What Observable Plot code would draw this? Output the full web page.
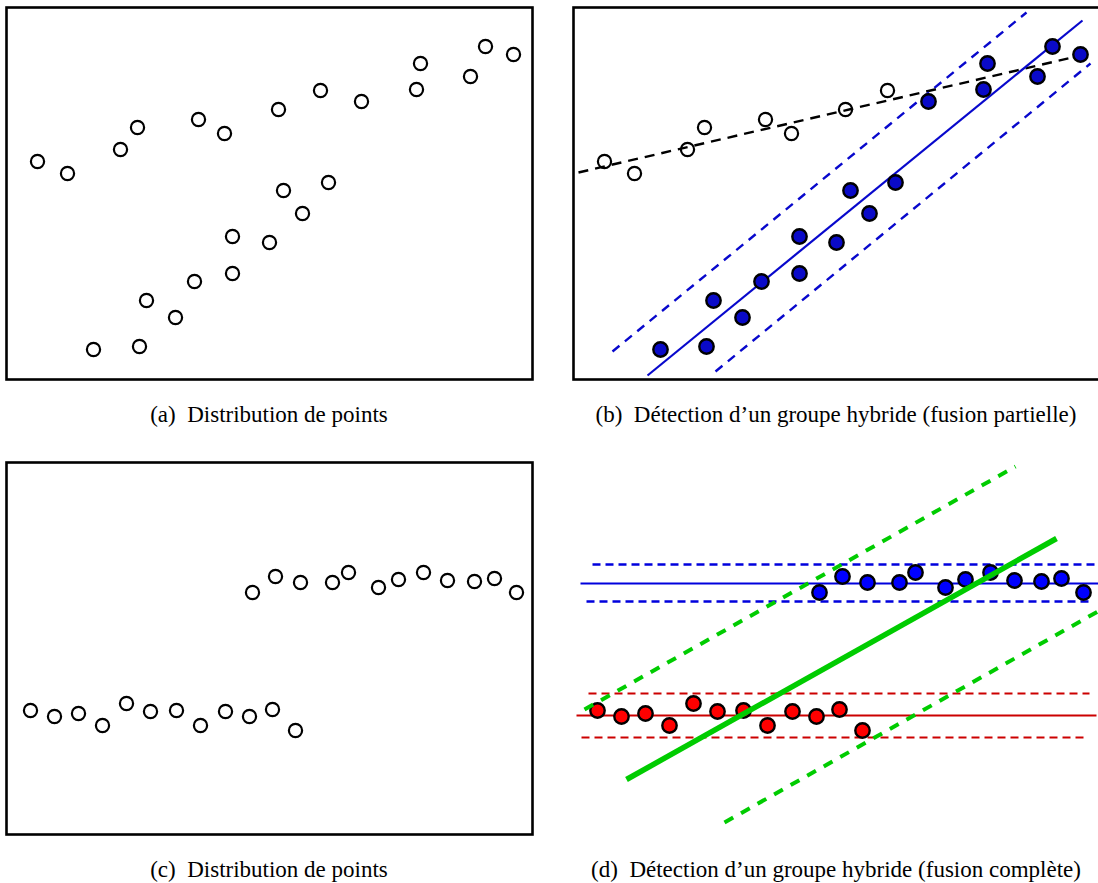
<!DOCTYPE html>
<html><head><meta charset="utf-8">
<script src="https://cdn.jsdelivr.net/npm/d3@7"></script>
<script src="https://cdn.jsdelivr.net/npm/@observablehq/plot@0.6"></script>
<style>
html,body{margin:0;padding:0;background:#fff;overflow:hidden;}
#root{position:relative;width:1098px;height:883px;overflow:hidden;}
.cap{position:absolute;font-family:"Liberation Serif","Times New Roman",serif;font-size:23px;line-height:23px;text-align:center;white-space:pre;color:#000;}
</style></head><body><div id="root"></div>
<script>
// ---- Data (panel units: x right from the left frame edge, y up from the bottom frame edge) ----
// Panels (a)/(b): two crossing point clouds
const abUpperX = [31, 61, 114, 131, 192, 218, 272, 314, 355, 410, 414, 464, 479, 507];
const abUpperY = [218, 206, 230, 252, 260, 246, 270, 289, 278, 290, 316, 303, 333, 325];
const abLowerX = [87, 133, 140, 169, 188, 226, 226, 263, 277, 296, 322];
const abLowerY = [30, 33, 79, 62, 98, 106, 143, 137, 189, 166, 197];
// in (b): 1 = absorbed by the hybrid group, 0 = left alone
const bUpperInGroup = [0, 0, 0, 0, 0, 0, 0, 0, 1, 1, 1, 1, 1, 1];

// Panels (c)/(d): two horizontal rows
const cdUpperX = [246, 269, 294, 326, 342, 372, 392, 417, 441, 468, 488, 510];
const cdUpperY = [242, 258, 252, 252, 262, 247, 255, 262, 254, 253, 256, 242];
const cdLowerX = [24, 48, 72, 96, 120, 144, 170, 194, 219, 243, 266, 289];
const cdLowerY = [124, 118, 121, 109, 131, 123, 124, 109, 123, 118, 125, 104];

// Fitted lines (b)
const bLineNames = ["hybride", "hybride_haut", "hybride_bas", "libre"];
const bLineX1 = [74, 39, 142, 5];
const bLineY1 = [4, 28, 8, 207];
const bLineX2 = [509, 453, 517, 516];
const bLineY2 = [359, 367, 316, 326];

// Fitted lines (d)
const dLineNames = ["bleu", "bleu_haut", "bleu_bas", "rouge", "rouge_haut", "rouge_bas", "vert", "vert_haut", "vert_bas"];
const dLineX1 = [7, 19, 13, 3, 15, 8, 53, 11, 151];
const dLineY1 = [251, 270, 233, 119, 141, 97, 55, 125, 12];
const dLineX2 = [525, 525, 518, 523, 516, 515, 483, 442, 526];
const dLineY2 = [251, 270, 233, 119, 141, 97, 296, 368, 224];

const captions = [
  "(a)\u2002Distribution de points",
  "(b)\u2002Détection d\u2019un groupe hybride (fusion partielle)",
  "(c)\u2002Distribution de points",
  "(d)\u2002Détection d\u2019un groupe hybride (fusion complète)"
];

// ---- Build tables ----
const zipPts = (xs, ys, extra = {}) => xs.map((x, i) => ({x, y: ys[i], ...Object.fromEntries(Object.entries(extra).map(([k, v]) => [k, Array.isArray(v) ? v[i] : v]))}));
const zipLines = (names, x1, y1, x2, y2) => names.map((name, i) => ({name, x1: x1[i], y1: y1[i], x2: x2[i], y2: y2[i]}));

const abPts = [...zipPts(abUpperX, abUpperY, {g: bUpperInGroup}), ...zipPts(abLowerX, abLowerY, {g: 1})];
const cdUpper = zipPts(cdUpperX, cdUpperY);
const cdLower = zipPts(cdLowerX, cdLowerY);
const bLines = zipLines(bLineNames, bLineX1, bLineY1, bLineX2, bLineY2);
const dLines = zipLines(dLineNames, dLineX1, dLineY1, dLineX2, dLineY2);

const root = document.getElementById("root");
const M = 4, W = 534, H = 380;

function panel(left, top, marks, frame) {
  const svg = Plot.plot({
    width: W, height: H,
    marginLeft: M, marginRight: M, marginTop: M, marginBottom: M,
    x: {domain: [0, 526], axis: null},
    y: {domain: [0, 372], axis: null},
    style: {background: "transparent", overflow: "visible"},
    marks: [...marks, frame ? Plot.frame({stroke: "#000", strokeWidth: 2.6}) : null]
  });
  svg.style.position = "absolute";
  svg.style.left = left + "px";
  svg.style.top = top + "px";
  svg.style.maxWidth = "none";
  root.appendChild(svg);
}

const openDot = (data) => Plot.dot(data, {x: "x", y: "y", r: 6.6, fill: "#fff", stroke: "#000", strokeWidth: 2.2});
const filledDot = (data, fill) => Plot.dot(data, {x: "x", y: "y", r: 7.2, fill, stroke: "#000", strokeWidth: 2.4});
const seg = (data, names, opts) => Plot.link(data.filter(d => names.includes(d.name)), {x1: "x1", y1: "y1", x2: "x2", y2: "y2", ...opts});

// (a)
panel(2, 3, [openDot(abPts)], true);

// (b)
panel(569, 3, [
  openDot(abPts.filter(d => !d.g)),
  seg(bLines, ["libre"], {stroke: "#000", strokeWidth: 2.4, strokeDasharray: "10,7"}),
  seg(bLines, ["hybride"], {stroke: "#0808cc", strokeWidth: 2.2}),
  seg(bLines, ["hybride_haut", "hybride_bas"], {stroke: "#0808cc", strokeWidth: 2.4, strokeDasharray: "9,7"}),
  filledDot(abPts.filter(d => d.g), "#0a0ac8")
], true);

// (c)
panel(2, 458, [openDot([...cdUpper, ...cdLower])], true);

// (d)
panel(569, 458, [
  seg(dLines, ["bleu"], {stroke: "#0000dd", strokeWidth: 2.2}),
  seg(dLines, ["bleu_haut", "bleu_bas"], {stroke: "#0000dd", strokeWidth: 2.4, strokeDasharray: "8,5"}),
  seg(dLines, ["rouge"], {stroke: "#cc0000", strokeWidth: 2.2}),
  seg(dLines, ["rouge_haut", "rouge_bas"], {stroke: "#cc0000", strokeWidth: 2.2, strokeDasharray: "8,5"}),
  filledDot(cdUpper, "#0000ff"),
  filledDot(cdLower, "#ff0000"),
  seg(dLines, ["vert"], {stroke: "#00cc00", strokeWidth: 5.5}),
  seg(dLines, ["vert_haut", "vert_bas"], {stroke: "#00cc00", strokeWidth: 4, strokeDasharray: "10,9"})
], false);

// captions
const capPos = [[6, 403], [573, 403], [6, 858], [573, 858]];
captions.forEach((t, i) => {
  const d = document.createElement("div");
  d.className = "cap";
  d.style.left = capPos[i][0] + "px";
  d.style.top = capPos[i][1] + "px";
  d.style.width = "526px";
  d.textContent = t;
  root.appendChild(d);
});
</script></body></html>
